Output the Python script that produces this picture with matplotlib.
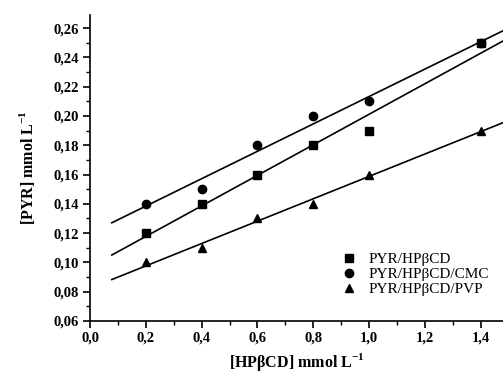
import numpy as np
import matplotlib
matplotlib.use('Agg')
import matplotlib.pyplot as plt
from matplotlib.ticker import MultipleLocator, FuncFormatter

plt.rcParams['font.family'] = ['Liberation Serif', 'DejaVu Serif']
plt.rcParams['mathtext.fontset'] = 'custom'
plt.rcParams['mathtext.rm'] = 'Liberation Serif'
plt.rcParams['mathtext.bf'] = 'Liberation Serif:bold'

# data
hp = [0.2, 0.4, 0.6, 0.8, 1.0, 1.4]
pyr_hp = [0.12, 0.14, 0.16, 0.18, 0.19, 0.25]
pyr_cmc = [0.14, 0.15, 0.18, 0.20, 0.21, 0.25]
pyr_pvp = [0.10, 0.11, 0.13, 0.14, 0.16, 0.19]
labels = ['PYR/HP\u03b2CD', 'PYR/HP\u03b2CD/CMC', 'PYR/HP\u03b2CD/PVP']

fig = plt.figure(figsize=(5.03, 3.74), dpi=100)
ax = fig.add_axes([0.179, 0.142, 0.821, 0.818])

xfit = np.array([0.078, 1.5])
for y in [pyr_hp, pyr_cmc, pyr_pvp]:
    k, b = np.polyfit(hp, y, 1)
    ax.plot(xfit, k * xfit + b, color='black', lw=1.2)
for y, m, lab in [(pyr_hp, 's', labels[0]), (pyr_cmc, 'o', labels[1]), (pyr_pvp, '^', labels[2])]:
    ax.plot(hp, y, ls='none', marker=m, color='black', ms=6, label=lab)

ax.set_xlim(0, 1.48)
ax.set_ylim(0.06, 0.269)
ax.spines['top'].set_visible(False)
ax.spines['right'].set_visible(False)
for s in ['left', 'bottom']:
    ax.spines[s].set_linewidth(1.2)

ax.xaxis.set_major_locator(MultipleLocator(0.2))
ax.xaxis.set_minor_locator(MultipleLocator(0.1))
ax.yaxis.set_major_locator(MultipleLocator(0.02))
ax.yaxis.set_minor_locator(MultipleLocator(0.01))
ax.xaxis.set_major_formatter(FuncFormatter(lambda v, p: f'{v:.1f}'.replace('.', ',')))
ax.yaxis.set_major_formatter(FuncFormatter(lambda v, p: f'{v:.2f}'.replace('.', ',')))
ax.tick_params(which='major', direction='out', length=5, width=1.2, labelsize=10.5, pad=3)
ax.tick_params(which='minor', direction='out', length=3, width=1)
for t in ax.get_xticklabels() + ax.get_yticklabels():
    t.set_fontweight('bold')

ax.set_xlabel('[HP\u03b2CD] mmol L$^{\\mathbf{-1}}$', fontsize=11.5, fontweight='bold', labelpad=4)
ax.set_ylabel('[PYR] mmol L$^{\\mathbf{-1}}$', fontsize=11.5, fontweight='bold', labelpad=12)

ax.legend(loc='lower right', bbox_to_anchor=(1.0, 0.035), frameon=False, fontsize=11,
          handlelength=1.2, handletextpad=0.7, labelspacing=0.1)

fig.savefig('out.png', dpi=100)
